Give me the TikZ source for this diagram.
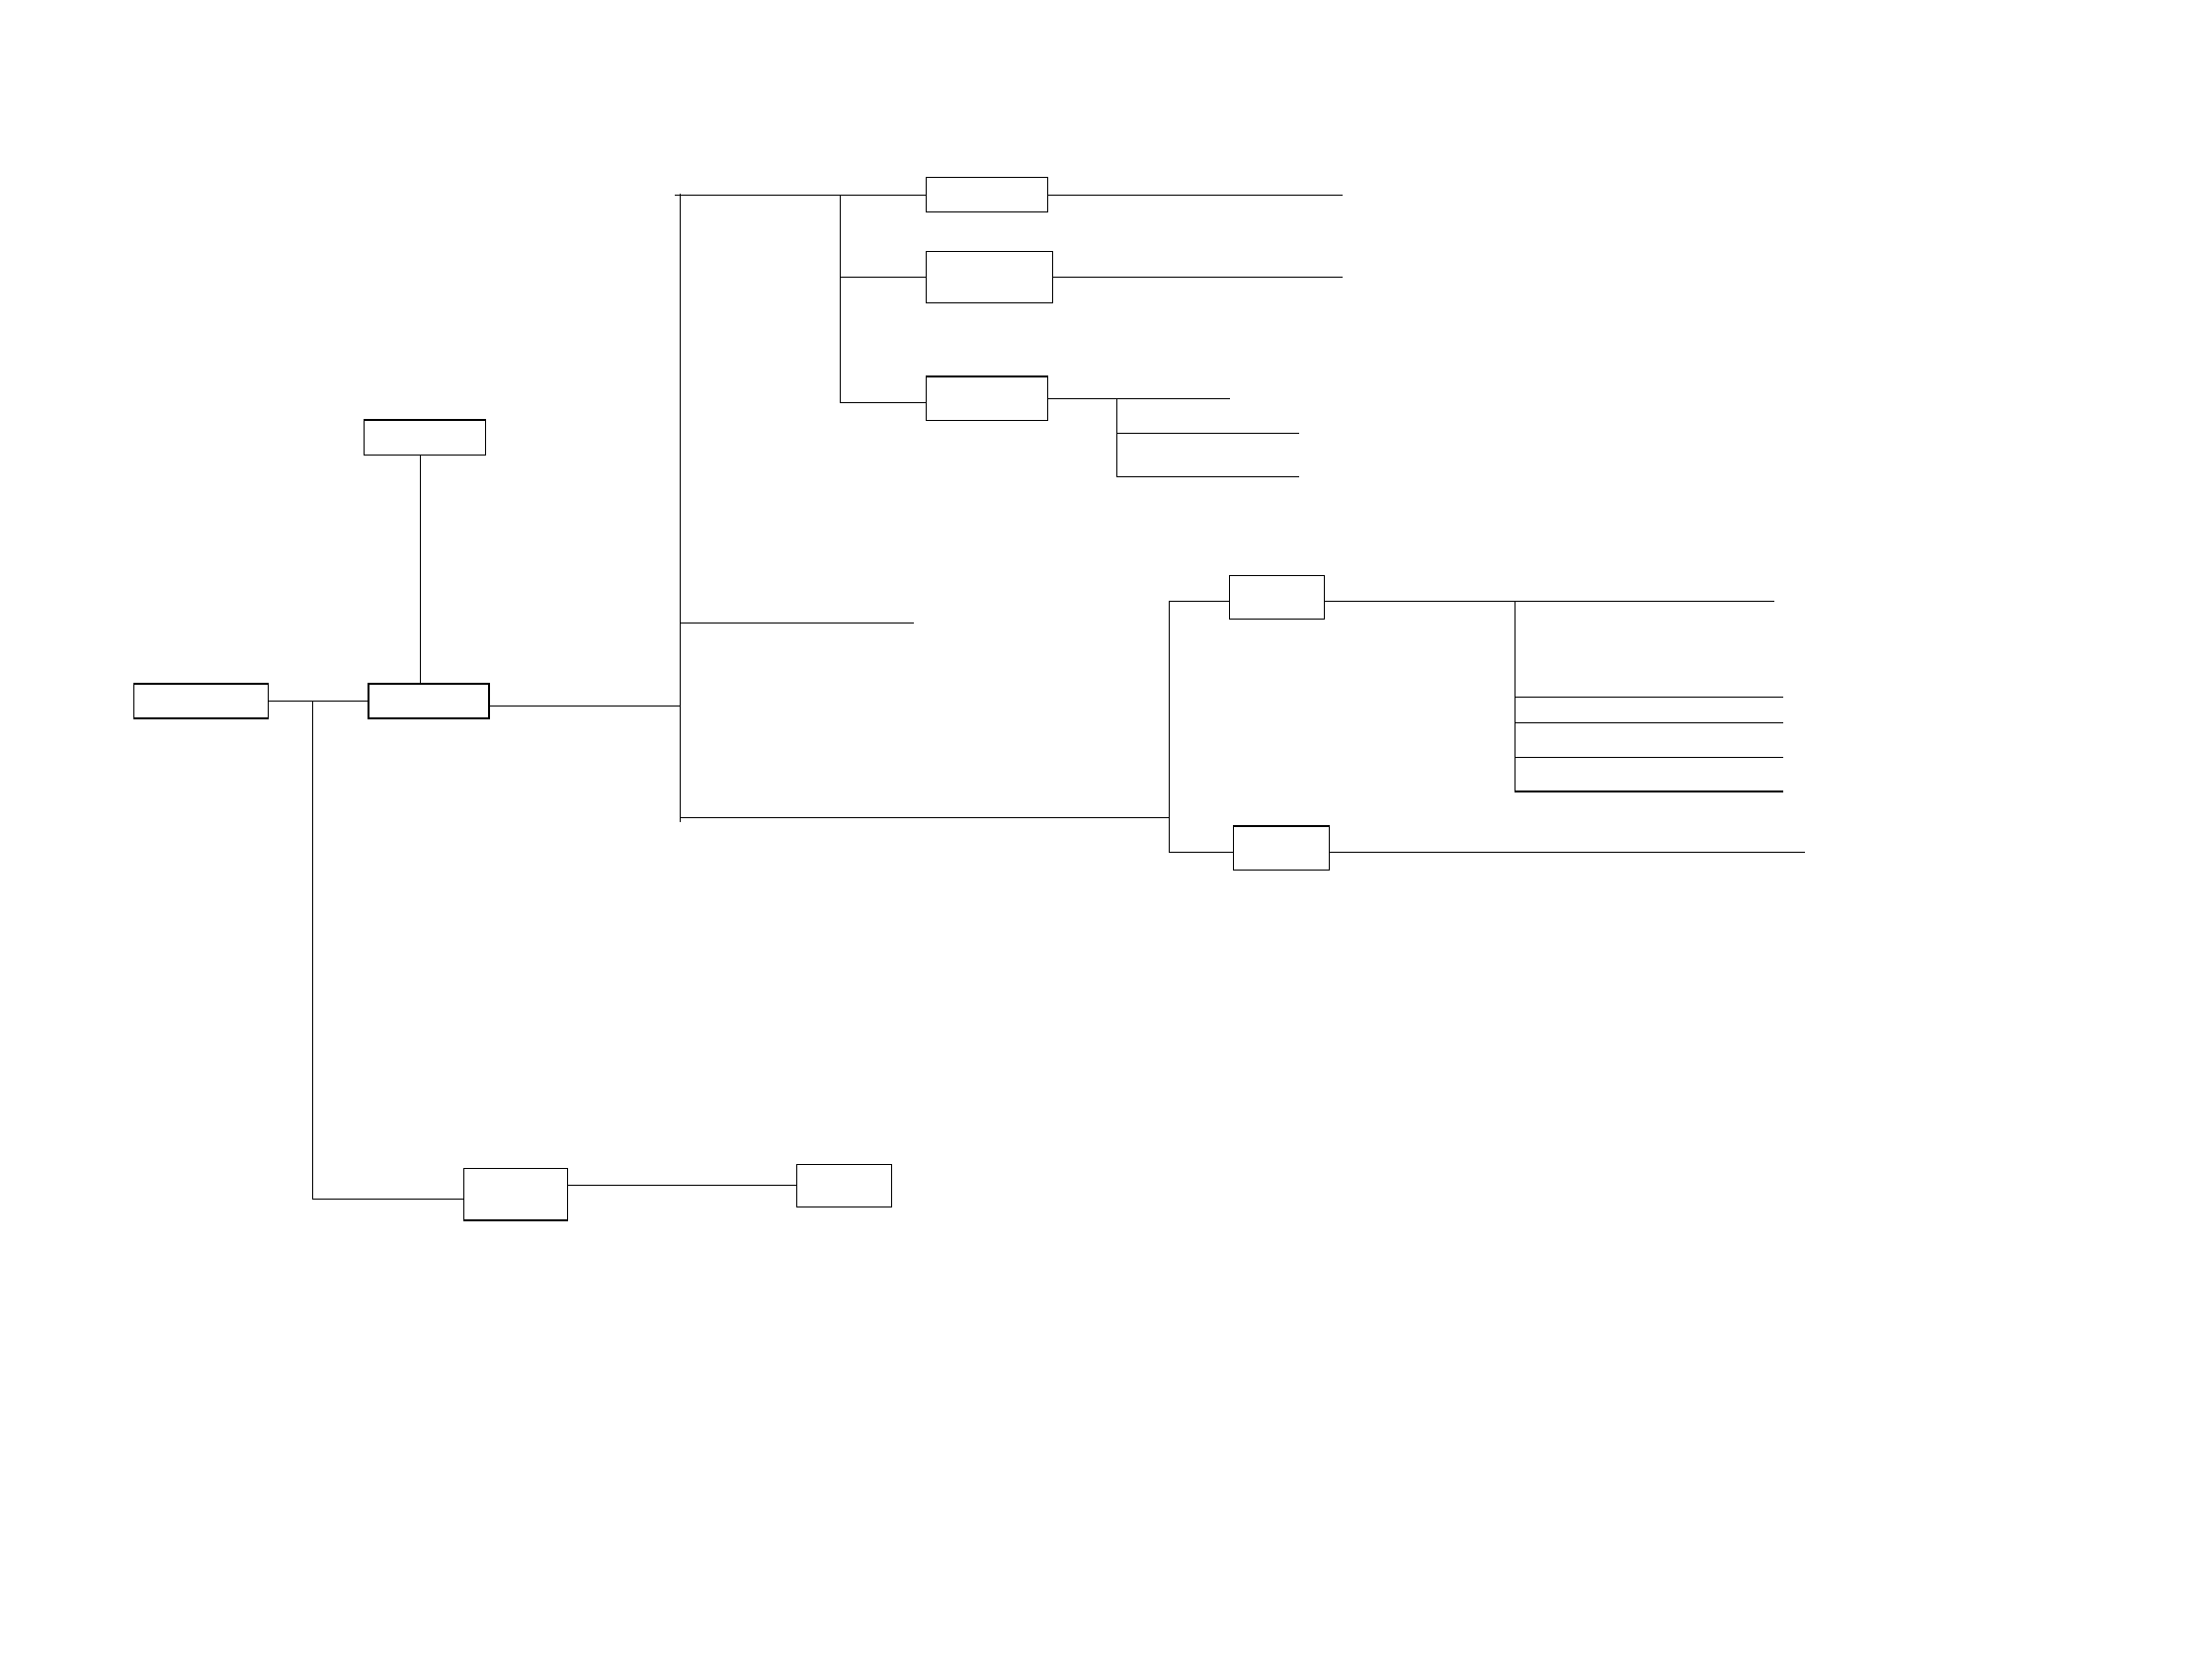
\documentclass[tikz,border=0pt]{standalone}
\begin{document}
\begin{tikzpicture}[line width=0.4pt, box/.style={draw, rectangle, inner sep=0pt}]
  \useasboundingbox (0,0) rectangle (22.39,-16.84);
  % boxes
  \node[box, minimum width=1.36cm, minimum height=0.35cm] (root) at (2.035,-7.097) {};
  \node[box, minimum width=1.22cm, minimum height=0.35cm] (hub) at (4.341,-7.097) {};
  \node[box, minimum width=1.23cm, minimum height=0.354cm] (top) at (4.298,-4.427) {};
  \node[box, minimum width=1.23cm, minimum height=0.35cm] (d1) at (9.990,-1.969) {};
  \node[box, minimum width=1.28cm, minimum height=0.52cm] (d2) at (10.017,-2.803) {};
  \node[box, minimum width=1.23cm, minimum height=0.443cm] (d3) at (9.990,-4.031) {};
  \node[box, minimum width=0.96cm, minimum height=0.44cm] (e1) at (12.923,-6.043) {};
  \node[box, minimum width=0.97cm, minimum height=0.443cm] (e2) at (12.969,-8.582) {};
  \node[box, minimum width=1.048cm, minimum height=0.528cm] (f1) at (5.221,-12.088) {};
  \node[box, minimum width=0.958cm, minimum height=0.43cm] (f2) at (8.545,-11.998) {};
  % junction points
  \coordinate (ja) at (3.164,-7.097);
  \coordinate (jf) at (3.164,-12.134);
  \coordinate (jv) at (4.254,-4.604);
  \coordinate (tt) at (6.883,-1.961);
  \coordinate (ttl) at (6.833,-1.973);
  \coordinate (tb) at (6.883,-8.317);
  \coordinate (jh) at (6.883,-7.143);
  \coordinate (s1) at (8.505,-1.973);
  \coordinate (s3) at (8.505,-4.073);
  \coordinate (d1e) at (13.586,-1.973);
  \coordinate (k) at (11.304,-4.033);
  \coordinate (k1) at (12.446,-4.033);
  \coordinate (mb) at (9.251,-6.306);
  \coordinate (lj) at (11.834,-8.274);
  \coordinate (le1) at (11.834,-6.083);
  \coordinate (le2) at (11.834,-8.624);
  \coordinate (e1e) at (17.960,-6.083);
  \coordinate (m0) at (15.334,-6.083);
  \coordinate (e2e) at (18.267,-8.624);
  % left part
  \draw (root.east) -- (hub.west);
  \draw (ja) -- (jf) -- (f1.west |- jf);
  \draw (f1.east |- f2.west) -- (f2.west);
  \draw (jv) -- (jv |- hub.north);
  % main trunk
  \draw (tt) -- (tb);
  \draw (hub.east |- jh) -- (jh);
  \draw (ttl) -- (d1.west |- ttl);
  \draw (tt |- mb) -- (mb);
  \draw (tt |- lj) -- (lj);
  % upper branch
  \draw (s1) -- (s3) -- (d3.west |- s3);
  \draw (s1 |- d2.west) -- (d2.west);
  \draw (d1.east |- d1e) -- (d1e);
  \draw (d2.east) -- (d2.east -| d1e);
  \draw (d3.east |- k) -- (k1);
  \draw (k) -- (k |- 0,-4.824);
  \foreach \y in {-4.384,-4.824}
    \draw (k |- 0,\y) -- (13.145,\y);
  % lower branch
  \draw (le1) -- (le2);
  \draw (le1) -- (e1.west |- le1);
  \draw (le2) -- (e2.west |- le2);
  \draw (e1.east |- e1e) -- (e1e);
  \draw (e2.east |- e2e) -- (e2e);
  \draw (m0) -- (m0 |- 0,-8.010);
  \foreach \y in {-7.053,-7.313,-7.663,-8.010}
    \draw (m0 |- 0,\y) -- (18.050,\y);
\end{tikzpicture}
\end{document}
